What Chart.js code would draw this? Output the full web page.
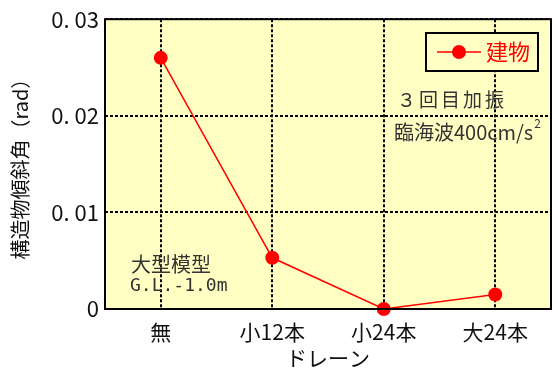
<!DOCTYPE html>
<html>
<head>
<meta charset="utf-8">
<script src="https://cdn.jsdelivr.net/npm/chart.js@4"></script>
<style>
  body { margin: 0; background: #fff; }
  #wrap { width: 558px; height: 371px; }
</style>
</head>
<body>
<div id="wrap"><canvas id="drainChart" width="558" height="371"></canvas></div>
<script>
const categories = ['無', '小12本', '小24本', '大24本'];
const tilt = [0.026, 0.0053, 0.0, 0.0015];
const yTicks = [0, 0.01, 0.02, 0.03];
const yTickLabels = ['0', '0. 01', '0. 02', '0. 03'];
const seriesName = '建物';

const JP = '"Noto Sans CJK JP", "Noto Sans", sans-serif';

// 背景・枠・凡例・注記
const decor = {
    id: 'decor',
    beforeDraw(chart) {
        const { ctx, chartArea: a } = chart;
        ctx.save();
        ctx.fillStyle = '#ffffc4';
        ctx.fillRect(a.left, a.top, a.right - a.left, a.bottom - a.top);
        ctx.restore();
    },
    afterDatasetsDraw(chart) {
        const { ctx, chartArea: a } = chart;
        ctx.save();
        ctx.strokeStyle = '#000';
        ctx.lineWidth = 2;
        ctx.strokeRect(a.left, a.top, a.right - a.left, a.bottom - a.top);

        // legend
        ctx.fillStyle = '#ffffc4';
        ctx.fillRect(426, 33, 112, 38);
        ctx.strokeRect(426, 33, 112, 38);
        ctx.strokeStyle = 'red';
        ctx.lineWidth = 1.5;
        ctx.beginPath();
        ctx.moveTo(437, 52);
        ctx.lineTo(481, 52);
        ctx.stroke();
        ctx.fillStyle = 'red';
        ctx.beginPath();
        ctx.arc(459, 52, 7, 0, Math.PI * 2);
        ctx.fill();
        ctx.font = '22px ' + JP;
        ctx.textBaseline = 'middle';
        ctx.fillText(seriesName, 486, 52);

        // notes
        ctx.fillStyle = '#333';
        ctx.font = '19px ' + JP;
        ctx.letterSpacing = '3px';
        ctx.fillText('３回目加振', 397, 100);
        ctx.letterSpacing = '0px';
        ctx.font = '20px ' + JP;
        const t = '臨海波400cm/s';
        ctx.fillText(t, 394, 132);
        const w = ctx.measureText(t).width;
        ctx.font = '12px ' + JP;
        ctx.fillText('2', 394 + w + 1, 123);
        ctx.font = '20px ' + JP;
        ctx.fillText('大型模型', 131, 264);
        ctx.font = '18px "DejaVu Sans Mono", monospace';
        ctx.fillText('G.L.-1.0m', 130, 286);
        ctx.restore();
    }
};

const ctx = document.getElementById('drainChart').getContext('2d');
const myChart = new Chart(ctx, {
    type: 'line',
    data: {
        labels: categories,
        datasets: [
            {
                label: seriesName,
                data: tilt,
                borderColor: 'red',
                backgroundColor: 'red',
                borderWidth: 1.5,
                pointRadius: 7,
                pointHoverRadius: 7,
                pointBorderWidth: 0,
                clip: false,
                fill: false,
            },
        ],
    },
    options: {
        responsive: false,
        animation: false,
        layout: { padding: { top: 18, right: 5, left: 8, bottom: 0 } },
        plugins: {
            legend: { display: false },
            tooltip: { enabled: false },
        },
        scales: {
            x: {
                offset: true,
                grid: {
                    offset: false,
                    color: '#000',
                    lineWidth: 2,
                    drawTicks: false,
                },
                border: { display: false, dash: [3, 2] },
                ticks: {
                    color: '#111',
                    font: { size: 21, family: JP },
                    padding: 10,
                    maxRotation: 0,
                },
                title: {
                    display: true,
                    text: 'ドレーン',
                    color: '#111',
                    font: { size: 21, family: JP },
                    padding: { top: -8, bottom: 0 },
                },
                afterFit(scale) { scale.height = 62; },
            },
            y: {
                min: 0,
                max: 0.03,
                afterBuildTicks(scale) {
                    scale.ticks = yTicks.map(v => ({ value: v }));
                },
                grid: {
                    color: '#000',
                    lineWidth: 2,
                    drawTicks: false,
                },
                border: { display: false, dash: [3, 2] },
                ticks: {
                    color: '#111',
                    font: { size: 22, family: JP },
                    padding: 6,
                    callback: (v, i) => yTickLabels[i],
                },
                title: {
                    display: true,
                    text: '構造物傾斜角（rad）',
                    color: '#111',
                    font: { size: 20, family: JP },
                    padding: { top: 0, bottom: 2 },
                },
                afterFit(scale) { scale.width = 97; },
            },
        },
    },
    plugins: [decor],
});
</script>
</body>
</html>
